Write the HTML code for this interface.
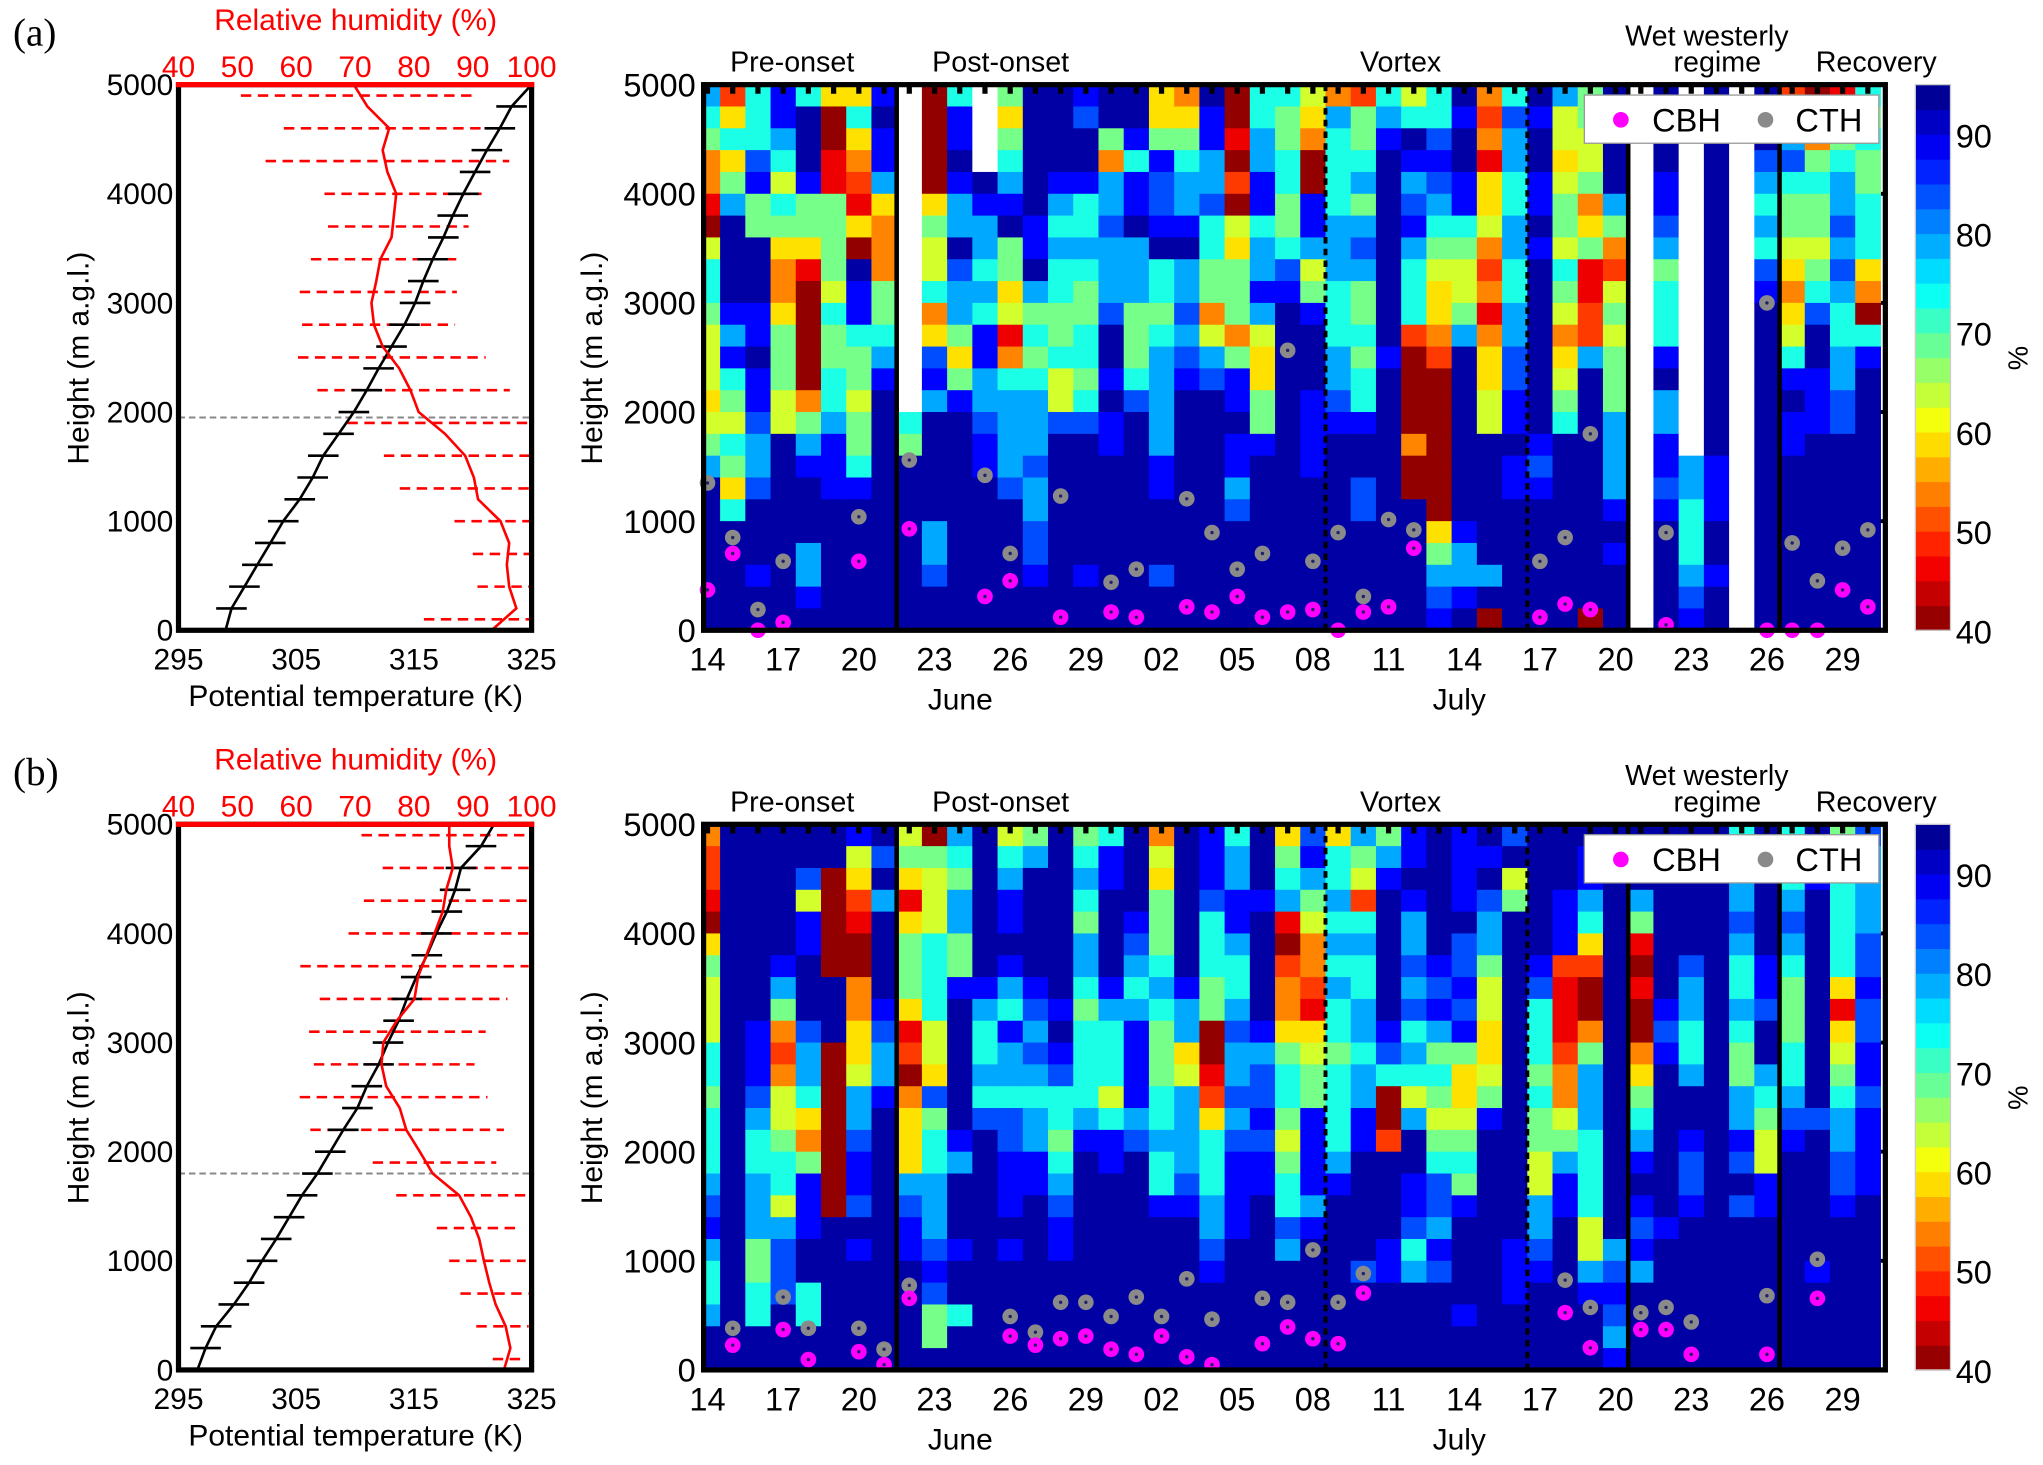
<!DOCTYPE html>
<html><head><meta charset="utf-8"><style>
html,body{margin:0;padding:0;background:#fff;}
svg{display:block;font-family:"Liberation Sans",sans-serif;}
</style></head><body>
<svg id="chart" width="2043" height="1465" viewBox="0 0 1568 1125" preserveAspectRatio="none" xmlns="http://www.w3.org/2000/svg"></svg>
<script>
// ---------- data ----------
const levelChars = "0123456789AB";
const levelRH = [41,46,50,54,59,63,68,73,79,84,88,93];
const dateLabels = ["14","17","20","23","26","29","02","05","08","11","14","17","20","23","26","29"];
const dateLabelDays = [0,3,6,9,12,15,18,21,24,27,30,33,36,39,42,45];
const regimeSolid = [7.5,36.5,42.5];
const regimeDashed = [24.5,32.5];
const heightTicks = [0,1000,2000,3000,4000,5000];
const rhTicks = [40,50,60,70,80,90,100];
const thetaTicks = [295,305,315,325];
const cbarTicks = [40,50,60,70,80,90];
const profH = [0,200,400,600,800,1000,1200,1400,1600,1800,2000,2200,2400,2600,2800,3000,3200,3400,3600,3800,4000,4200,4400,4600,4800,5000];
const barH = [4900,4600,4300,4000,3700,3400,3100,2800,2500,2200,1900,1600,1300,1000,700,400,100];

const gridA = ["876331057765554568BBBBBBB","247468BBBBA8A7657647BBBBB","7779A66BBBAABAA9889BBBABB","AA87576433466655BBBBBBBBB","7BBBA664100000368ABBB88AB","4001166665766778AAABBBBBB","47432140BAA7665667ABBBBBB","ABAA843336678ABBBBBBBBBBB","wwwwwwwwwwwwwww76BBBBBBBB","0000046557349A8BBBBB889BB","7AABA88B988646ABBBBBBBBBB","wwwwBA88787AA889AABBBBBBB","64678AB664513788889BBBBBB","BBBBBBAAB8676788898899ABB","BBBBA87877667559BBBBBBBBB","A9BBA77876677679BBBBBBABB","BB638898889BBABAABBBBBBBB","BBA7AAB88866679BBBBBBBBBB","446A99AB776788888AABBB9BB","346788AB88989ABBBBBBBBBBB","BAA88977663589BBBBBBBBBBB","0010205466636AABAA89BBBBB","7788AA788A854466ABBBBBBBB","766776679ABBBBBBBBBBBBBBB","54300AA856ABBBAAAABBBBBBB","387777888777889ABBBBBBBBB","266786898667677ABB99BBBBB","78ABBBBBBBBBABBBBBBBBBBBB","57BA89A877720000300BBBBBB","779A98765443200000004689A","BABBAA765568BBBBBBBBA88AB","3231445323134455BBBBBB8B0","79887788778899AABAABBBBBB","BABBAABABBBBBBBBA9ABBBBBB","8554566576534567BBBBBBBBB","6655634611228BBBBBBBBBBB0","BBBBB86325656668888ABABBB","wwwwwwwwwwwwwwwwwwwwwwwww","BBBBAA986777AB88AA9ABBBBB","wwwwwwwwwwwwwwwww8877789A","BBBBBBBBBBBBBBBBBAAABBABB","wwwwwwwwwwwwwwwwwwwwwwwww","BBB987879ABBBBBBBBBBBBBBB","2089766543457ABAABBBBBBBB","02367665679BBAAABBBBBBBBB","1667889898778899BBBBBBBBB","767667774307ABBBBBBBBBBBB"];
const gridB = ["322104655577677789A8778BB","BBBBBBBBBBBBBBBBBBBBBBBBB","BBBBBBBBBAAA98778886677BB","BBBBBBA863235567758999BBB","BB95AABBB9887436AAABB77BB","BB00000BBB00000000BBBBBBB","A54210033445889AA9BABBBBB","B9B8BBBBA988ABBBBBBBBBBBB","564146664120344489AABBBBB","06555777755496778889A966B","8768866ABBBBBBA8BBBABB7BB","BBBBBBBA877879BBBBBBBBBBB","578AABA87A88799AAABABBBBB","68BBBBBA9898788AABBBBBBBB","BBBBBBBBABA9776789AABBBBB","67876887677778ABBBBBBBBBB","7AABBBBA877757AABBBBBBBBB","BBBBA9878AAAA89BBBBBBBBBB","35466678766677877ABBBBBBB","BBBBBBBA884588889ABBBBBBB","AAA97776600124777889ABBBB","788AA8778988989AAAABBBBBB","BBBABBBBBA899A9AABBBBBBBB","46781023346776567798BBBBB","9A86533214566AAAA8ABBBBBB","4778787877677778ABBBBBBBB","8652787788788AABBBBB9BBBB","68ABBBBBBA97002BBBBAABBBB","AABA8898978758BBAA978BBBB","BBBBBBA9A8676567998A9BBBB","AAAAB99A9A6445676ABBBBABB","BAB9886554456ABBBBBBBBBBB","9B56BBBBBBBBBBBBBBBAAABBB","BBBBBBA9777676655889ABBBB","BBBAAA2111233568AABBBBBBB","BAA874200368887777558ABBB","BBBBBBBBBBBBBBBBBBB89A98A","BBB861010034678ABA9A8BBBB","BBBBBBBBA9ABBBBBBBABBBBBB","BBBBBB988778BBA99ABBBBBBB","BBBBBBBBBBBBBBBBBBBBBBBBB","79889877876688A9B9BBBBBBB","BBBBBBAA9BB87655AABBBBBBB","77789876667789ABBBBBBBBBB","B9ABBBBBBBBBB9BBBBBBABBBB","67777774145678899ABBBBBBB","9888899A99AA9AAAABBBBBBBB"];

const cbhDayA = [0,1,2,3,6,8,11,12,14,16,17,19,20,21,22,23,24,25,26,27,28,33,34,35,38,42,43,44,45,46];
const cbhHA   = [370,704,0,72,632,930,310,453,120,167,120,215,167,310,120,167,190,0,167,215,752,120,240,190,50,0,0,0,370,215];
const cthDayA = [0,1,2,3,6,8,11,12,14,16,17,19,20,21,22,23,24,25,26,27,28,33,34,35,38,42,43,44,45,46];
const cthHA   = [1350,850,190,632,1040,1560,1420,704,1230,440,560,1205,895,560,704,2565,632,895,310,1015,920,632,850,1800,895,3000,800,453,752,920];
const cbhDayB = [1,3,4,6,7,8,12,13,14,15,16,17,18,19,20,22,23,24,25,26,34,35,37,38,39,42,44];
const cbhHB   = [227,370,95,167,48,656,310,227,286,310,190,143,310,120,48,240,394,286,240,704,525,203,370,370,143,143,656];
const cthDayB = [1,3,4,6,7,8,12,13,14,15,16,17,18,19,20,22,23,24,25,26,34,35,37,38,39,42,44];
const cthHB   = [382,668,382,382,190,775,490,346,620,620,490,668,490,835,465,656,620,1100,620,883,823,573,525,573,440,680,1014];

const thetaA = [299.0,299.5,300.6,301.7,302.8,303.9,305.3,306.4,307.3,308.6,309.9,311.0,312.0,313.1,314.2,315.1,315.8,316.6,317.5,318.3,319.2,320.2,321.2,322.3,323.3,325.0];
const rhProfA = [93.2,97.4,96.2,95.8,96.2,94.7,90.9,90.2,88.7,85.3,80.8,79.4,77.5,74.7,73.2,72.8,73.6,74.3,76.2,76.6,77.0,75.5,74.7,75.8,72.1,69.8];
const barLoA = [50.6,57.9,54.8,64.8,65.4,62.5,60.6,61.0,60.3,63.6,68.7,74.9,77.6,86.9,90.0,90.8,81.7];
const barHiA = [90.7,92.6,96.2,91.5,89.3,87.2,87.3,87.0,92.2,96.3,100,100,100,100,100,100,100];
const blhA = 1950;
const thetaB = [296.6,297.3,298.2,299.7,301.0,302.1,303.3,304.4,305.5,306.8,307.9,309.0,310.2,311.0,312.0,312.8,313.7,314.4,315.2,316.1,316.9,317.8,318.5,319.0,320.7,321.8];
const rhProfB = [95.3,96.4,95.6,93.9,92.8,91.9,91.1,89.7,87.7,83.2,81.0,78.7,77.6,75.3,74.5,74.8,77.1,80.1,80.7,82.1,83.5,84.9,85.5,86.6,86.0,86.0];
const barLoB = [71.1,74.7,71.5,68.9,60.7,64.0,62.2,63.0,60.6,62.4,73.0,77.0,83.9,86.0,87.9,90.6,93.4];
const barHiB = [99.0,99.5,99.5,99.5,99.5,95.9,92.2,90.3,92.5,95.3,94.0,99.0,97.6,99.0,99.5,99.5,99.0];
const blhB = 1800;

// ---------- helpers ----------
const NS = 'http://www.w3.org/2000/svg';
const svg = document.getElementById('chart');
function mk(tag, attrs, parent){ const e=document.createElementNS(NS,tag); for(const k in attrs) e.setAttribute(k,attrs[k]); (parent||svg).appendChild(e); return e; }
function jet(v){
  let t=(95-v)/55; t=Math.max(0,Math.min(1,t));
  const c=x=>Math.round(255*Math.max(0,Math.min(1,x)));
  return 'rgb('+c(1.5-Math.abs(4*t-3))+','+c(1.5-Math.abs(4*t-2))+','+c(1.5-Math.abs(4*t-1))+')';
}
const X0=543, DX=19.36, HL=540, HR=1447;
const xDay = d => X0 + DX*d;
const yH = (h,off) => 484 + off - h/5000*419;
const xTh = t => 137 + (t-295)/30*271;
const xRH = v => 137 + (v-40)/60*271;

function drawPanel(off, tag, grid, cbhD, cbhH, cthD, cthH, theta, rhp, lo, hi, blh){
  const g = mk('g',{});
  
  

  const pl = mk('text',{x:10,y:35+off,'font-family':'Liberation Serif, serif','font-size':30},g);
  pl.textContent='('+tag+')';
  
  

  // ----- left profile -----
  const lf = mk('rect',{x:137,y:65+off,width:271,height:419,fill:'#fff',stroke:'none'},g);
  
  
  const bl = mk('line',{x1:137,x2:408,y1:yH(blh,off),y2:yH(blh,off),stroke:'#888','stroke-width':1.5,'stroke-dasharray':'5,3'},g);
  
  
  for(let i=0;i<barH.length;i++){
    const b = mk('line',{x1:xRH(lo[i]),x2:xRH(hi[i]),y1:yH(barH[i],off),y2:yH(barH[i],off),stroke:'#f00','stroke-width':2,'stroke-dasharray':'8,5'},g);
    
    
  }
  let pts = profH.map((h,i)=>xTh(theta[i]).toFixed(1)+','+yH(h,off).toFixed(1)).join(' ');
  const tl = mk('polyline',{points:pts,fill:'none',stroke:'#000','stroke-width':2},g);
  
  
  for(let i=1;i<profH.length-1;i++){
    const e = mk('line',{x1:xTh(theta[i]-1.3),x2:xTh(theta[i]+1.3),y1:yH(profH[i],off),y2:yH(profH[i],off),stroke:'#000','stroke-width':2},g);
    
    
  }
  pts = profH.map((h,i)=>xRH(rhp[i]).toFixed(1)+','+yH(h,off).toFixed(1)).join(' ');
  const rl = mk('polyline',{points:pts,fill:'none',stroke:'#f00','stroke-width':2},g);
  
  
  const lfr = mk('rect',{x:137,y:65+off,width:271,height:419,fill:'none',stroke:'#000','stroke-width':4},g);
  
  
  const rt = mk('line',{x1:135,x2:410,y1:65+off,y2:65+off,stroke:'#f00','stroke-width':4},g);
  
  
  heightTicks.forEach(h=>{
    const t = mk('text',{x:133,y:yH(h,off)+8,'text-anchor':'end','font-size':23},g);
    t.textContent=String(h);
    
    
    const t2 = mk('text',{x:534,y:yH(h,off)+9,'text-anchor':'end','font-size':25},g);
    t2.textContent=String(h);
    
    
    const tk = mk('line',{x1:HR-6,x2:HR,y1:yH(h,off),y2:yH(h,off),stroke:'#000','stroke-width':3},g);
    
    
  });
  rhTicks.forEach(v=>{
    const t = mk('text',{x:xRH(v),y:59+off,'text-anchor':'middle','font-size':23,fill:'#f00'},g);
    t.textContent=String(v);
    
    
  });
  thetaTicks.forEach(v=>{
    const t = mk('text',{x:xTh(v),y:514+off,'text-anchor':'middle','font-size':23},g);
    t.textContent=String(v);
    
    
  });
  const rtt = mk('text',{x:273,y:23+off,'text-anchor':'middle','font-size':23,fill:'#f00'},g);
  rtt.textContent='Relative humidity  (%)';
  
  
  const xtt = mk('text',{x:273,y:542+off,'text-anchor':'middle','font-size':23},g);
  xtt.textContent='Potential temperature (K)';
  
  
  const yt1 = mk('text',{x:0,y:0,'text-anchor':'middle','font-size':23,transform:'translate(68,'+(275+off)+') rotate(-90)'},g);
  yt1.textContent='Height (m a.g.l.)';
  
  
  const yt2 = mk('text',{x:0,y:0,'text-anchor':'middle','font-size':23,transform:'translate(462,'+(275+off)+') rotate(-90)'},g);
  yt2.textContent='Height (m a.g.l.)';
  
  

  // ----- heatmap -----
  const rowH = 419/25;
  for(let k=0;k<grid.length;k++){
    const s = grid[k];
    const xa = Math.max(HL, xDay(k-0.5)), xb = Math.min(HR, xDay(k+0.5));
    for(let r=0;r<25;r++){
      const ch = s[r] || 'B';
      const fill = ch==='w' ? '#fff' : jet(levelRH[levelChars.indexOf(ch)]);
      const c = mk('rect',{x:xa.toFixed(2),y:(65+off+r*rowH).toFixed(2),width:(xb-xa+0.4).toFixed(2),height:(rowH+0.4).toFixed(2),fill:fill},g);
      
      
    }
  }
  regimeSolid.forEach(d=>{
    const l = mk('line',{x1:xDay(d),x2:xDay(d),y1:65+off,y2:484+off,stroke:'#000','stroke-width':3.5},g);
    
    
  });
  regimeDashed.forEach(d=>{
    const l = mk('line',{x1:xDay(d),x2:xDay(d),y1:65+off,y2:484+off,stroke:'#000','stroke-width':3,'stroke-dasharray':'5,4'},g);
    
    
  });
  for(let d=0; d<47; d++){
    const tk = mk('line',{x1:xDay(d),x2:xDay(d),y1:65+off,y2:72+off,stroke:'#000','stroke-width':4},g);
    
    
  }
  for(let i=0;i<cthD.length;i++){
    const m = mk('circle',{cx:xDay(cthD[i]),cy:yH(cthH[i],off),r:6,fill:'#8a8a8a'},g);
    
    
    const c = mk('circle',{cx:xDay(cthD[i]),cy:yH(cthH[i],off),r:1.3,fill:'#226'},g);
    
    
  }
  for(let i=0;i<cbhD.length;i++){
    const m = mk('circle',{cx:xDay(cbhD[i]),cy:yH(cbhH[i],off),r:6,fill:'#f0f'},g);
    
    
    const c = mk('circle',{cx:xDay(cbhD[i]),cy:yH(cbhH[i],off),r:1.3,fill:'#226'},g);
    
    
  }
  const hf = mk('rect',{x:HL,y:65+off,width:HR-HL,height:419,fill:'none',stroke:'#000','stroke-width':4},g);
  
  
  // legend
  const lg = mk('rect',{x:1216,y:73+off,width:226,height:37,fill:'#fff',stroke:'#999','stroke-width':1},g);
  
  
  const l1 = mk('circle',{cx:1244,cy:92+off,r:6,fill:'#f0f'},g);
  
  
  const l1t = mk('text',{x:1268,y:101+off,'font-size':25},g);
  l1t.textContent='CBH';
  
  
  const l2 = mk('circle',{cx:1355,cy:92+off,r:6,fill:'#8a8a8a'},g);
  
  
  const l2t = mk('text',{x:1378,y:101+off,'font-size':25},g);
  l2t.textContent='CTH';
  
  
  // date axis
  dateLabels.forEach((s,i)=>{
    const t = mk('text',{x:xDay(dateLabelDays[i]),y:515+off,'text-anchor':'middle','font-size':25},g);
    t.textContent=s;
    
    
  });
  const jn = mk('text',{x:737,y:545+off,'text-anchor':'middle','font-size':23},g);
  jn.textContent='June';
  
  
  const jl = mk('text',{x:1120,y:545+off,'text-anchor':'middle','font-size':23},g);
  jl.textContent='July';
  
  
  const regs = [['Pre-onset',608,55],['Post-onset',768,55],['Vortex',1075,55],['Wet westerly',1310,35],['regime',1318,55],['Recovery',1440,55]];
  regs.forEach(r=>{
    const t = mk('text',{x:r[1],y:r[2]+off,'text-anchor':'middle','font-size':22},g);
    t.textContent=r[0];
    
    
  });
  // colorbar
  for(let v=40; v<95; v+=2.5){
    const y1 = 65+off + (95-(v+2.5))/55*419, y2 = 65+off+(95-v)/55*419;
    const b = mk('rect',{x:1470,y:y1,width:27,height:y2-y1+0.5,fill:jet(v+1.25)},g);
    
    
  }
  const cbf = mk('rect',{x:1470,y:65+off,width:27,height:419,fill:'none',stroke:'#ccc','stroke-width':1},g);
  
  
  cbarTicks.forEach(v=>{
    const t = mk('text',{x:1501,y:65+off+(95-v)/55*419+10,'font-size':25},g);
    t.textContent=String(v);
    
    
  });
  const pc = mk('text',{x:0,y:0,'text-anchor':'middle','font-size':21,transform:'translate(1556,'+(275+off)+') rotate(-90)'},g);
  pc.textContent='%';
  
  
}

drawPanel(0,'a',gridA,cbhDayA,cbhHA,cthDayA,cthHA,thetaA,rhProfA,barLoA,barHiA,blhA);
drawPanel(568,'b',gridB,cbhDayB,cbhHB,cthDayB,cthHB,thetaB,rhProfB,barLoB,barHiB,blhB);
</script>
</body></html>
